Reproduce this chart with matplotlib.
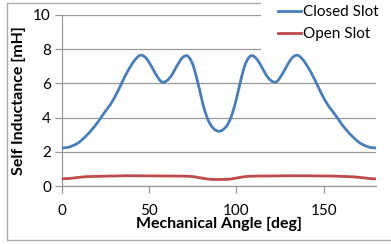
import numpy as np
import matplotlib
matplotlib.use('Agg')
import matplotlib.pyplot as plt
from matplotlib.patches import Rectangle
from matplotlib.lines import Line2D

plt.rcParams['font.family'] = ['Lato', 'DejaVu Sans']

# mechanical angle [deg]
angle = [0, 3, 6, 9, 12, 15, 18, 21, 24, 27, 30, 33, 36, 39, 42, 45, 48, 51, 54, 57, 60,
         63, 66, 69, 72, 75, 78, 81, 84, 87, 90, 93, 96, 99, 102, 105, 108, 111, 114, 117, 120,
         123, 126, 129, 132, 135, 138, 141, 144, 147, 150, 153, 156, 159, 162, 165, 168, 171,
         174, 177, 180]

# self inductance [mH]
closed_slot = [2.22, 2.25, 2.35, 2.5, 2.75, 3.05, 3.4, 3.8, 4.25, 4.65, 5.15, 5.75, 6.4, 6.95,
               7.4, 7.65, 7.5, 7.05, 6.5, 6.1, 6.15, 6.5, 7.05, 7.5, 7.6, 7.1, 6.0, 4.7, 3.8,
               3.35, 3.2, 3.35, 3.8, 4.7, 6.0, 7.1, 7.6, 7.5, 7.05, 6.5, 6.15, 6.1, 6.5, 7.05,
               7.5, 7.65, 7.4, 6.95, 6.4, 5.75, 5.15, 4.65, 4.25, 3.8, 3.4, 3.05, 2.75, 2.5,
               2.35, 2.25, 2.22]
open_slot = [0.42, 0.43, 0.46, 0.5, 0.53, 0.55, 0.56, 0.57, 0.58, 0.58, 0.59, 0.59, 0.6, 0.6,
             0.6, 0.6, 0.6, 0.6, 0.59, 0.59, 0.59, 0.58, 0.58, 0.58, 0.57, 0.55, 0.5, 0.45,
             0.4, 0.38, 0.38, 0.38, 0.4, 0.45, 0.5, 0.55, 0.57, 0.58, 0.58, 0.58, 0.59, 0.59,
             0.59, 0.6, 0.6, 0.6, 0.6, 0.6, 0.6, 0.59, 0.59, 0.58, 0.58, 0.57, 0.56, 0.55,
             0.53, 0.5, 0.46, 0.43, 0.42]

series = ['Closed Slot', 'Open Slot']
colors = ['#4a7ebb', '#be4b48']


def smooth(x, y, n=12):
    # Catmull-Rom drawing of the points, like Excel's "smoothed line"
    x = np.asarray(x, float)
    y = np.asarray(y, float)
    px = np.concatenate([[x[0]], x, [x[-1]]])
    py = np.concatenate([[y[0]], y, [y[-1]]])
    t = np.linspace(0, 1, n, endpoint=False)
    xs, ys = [], []
    for i in range(1, len(px) - 2):
        for p, out in ((px, xs), (py, ys)):
            p0, p1, p2, p3 = p[i - 1], p[i], p[i + 1], p[i + 2]
            out.extend(0.5 * (2 * p1 + (-p0 + p2) * t + (2 * p0 - 5 * p1 + 4 * p2 - p3) * t ** 2
                              + (-p0 + 3 * p1 - 3 * p2 + p3) * t ** 3))
    xs.append(x[-1])
    ys.append(y[-1])
    return xs, ys


fig = plt.figure(figsize=(3.91, 2.44), dpi=100)
ax = fig.add_axes([62 / 391, 1 - 186 / 244, 314 / 391, 171 / 244])

for vals, c in zip([closed_slot, open_slot], colors):
    sx, sy = smooth(angle, vals)
    ax.plot(sx, sy, color=c, lw=2.0, solid_capstyle='round', zorder=3)

ax.set_xlim(0, 180)
ax.set_ylim(0, 10)
ax.set_xticks([0, 50, 100, 150])
ax.set_yticks([0, 2, 4, 6, 8, 10])
ax.grid(axis='y', color='#999999', lw=0.9)
ax.set_axisbelow(True)
for s in ['top', 'right']:
    ax.spines[s].set_visible(False)
for s in ['left', 'bottom']:
    ax.spines[s].set_color('#999999')
    ax.spines[s].set_linewidth(0.9)
ax.tick_params(length=5, width=0.9, color='#999999', labelsize=11, pad=3)
ax.tick_params(axis='x', pad=8)
ax.set_xlabel('Mechanical Angle [deg]', fontsize=11.5, fontweight='bold', labelpad=-1)
ax.set_ylabel('Self Inductance [mH]', fontsize=11.5, fontweight='bold', labelpad=5)

# white legend area over the upper right corner
fig.add_artist(Rectangle((261 / 391, 1 - 52 / 244), 130 / 391, 52 / 244,
                         transform=fig.transFigure, facecolor='white', edgecolor='none', zorder=1))
handles = [Line2D([], [], color=c, lw=2.0) for c in colors]
fig.legend(handles, series, loc='upper left', bbox_to_anchor=(278 / 391, 1 - 5 / 244),
           frameon=False, fontsize=11, handlelength=1.5, handletextpad=0.15,
           borderpad=0, borderaxespad=0, labelspacing=0.55)

# outer chart border
fig.add_artist(Rectangle((7 / 391, 1 - 240 / 244), 400 / 391, 237 / 244,
                         transform=fig.transFigure, facecolor='none', edgecolor='#aaaaaa',
                         lw=1.0, zorder=0))

fig.savefig('out.png', dpi=100)
